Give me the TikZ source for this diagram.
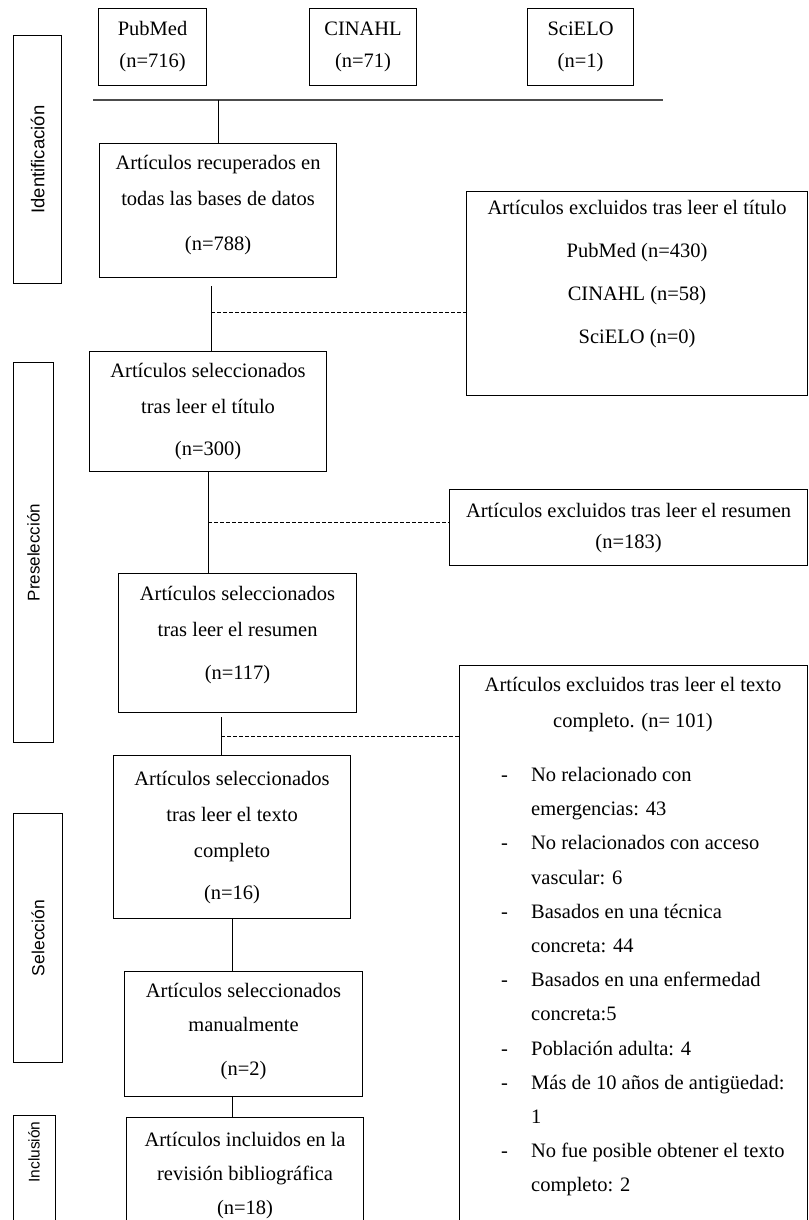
\documentclass[tikz,border=0pt]{standalone}
\usepackage{fontspec}
\setmainfont{Liberation Serif}
\newfontfamily\labfont{Liberation Sans}
\begin{document}
\begin{tikzpicture}[x=1pt,y=-1pt,
  box/.style={draw, line width=1.1pt, anchor=north west, inner sep=0pt, align=center, font=\fontsize{20.5}{36}\selectfont},
  lab/.style={draw, line width=1.1pt, anchor=north west, inner sep=0pt},
  txt/.style={inner sep=0pt, align=center, font=\fontsize{20.5}{36}\selectfont},
  link/.style={line width=1pt},
  dlink/.style={line width=0.9pt, dash pattern=on 4pt off 2pt}]
\path[use as bounding box] (0,0) rectangle (808,1220);
\clip (0,0) rectangle (808,1220);

% side labels
\node[lab, minimum width=48pt, minimum height=248pt] (lId) at (13,35) {\rotatebox{90}{\labfont\fontsize{18.5}{22}\selectfont Identificación}};
\node[lab, minimum width=40pt, minimum height=380pt] (lPre) at (13,362) {\rotatebox{90}{\labfont\fontsize{17}{20}\selectfont Preselección}};
\node[lab, minimum width=49pt, minimum height=249pt] (lSel) at (13,813) {\rotatebox{90}{\labfont\fontsize{17.5}{21}\selectfont Selección}};
\node[lab, minimum width=42pt, minimum height=130pt] (lInc) at (13,1115) {};
\node[inner sep=0pt] (lIncT) at (34,1152) {\rotatebox{90}{\labfont\fontsize{15.5}{18}\selectfont Inclusión}};

% top sources
\node[box, minimum width=108pt, minimum height=77pt, font=\fontsize{20.5}{32}\selectfont] (pub) at (98,8) {PubMed\\(n=716)};
\node[box, minimum width=107pt, minimum height=77pt, font=\fontsize{20.5}{32}\selectfont] (cin) at (309,8) {CINAHL\\(n=71)};
\node[box, minimum width=106pt, minimum height=77pt, font=\fontsize{20.5}{32}\selectfont] (sci) at (527,8) {SciELO\\(n=1)};
\coordinate (barL) at (93,100);
\coordinate (barR) at (663,100);
\draw[line width=1.6pt, black!70] (barL) -- (barR);

% main column
\node[box, minimum width=237pt, minimum height=134pt] (rec) at (99,143) {Artículos recuperados en\\todas las bases de datos\\[9pt](n=788)\\[-21pt]\mbox{}};
\node[box, minimum width=237pt, minimum height=120pt] (tit) at (89,351) {Artículos seleccionados\\tras leer el título\\[6pt](n=300)};
\node[box, minimum width=238pt, minimum height=139pt] (res) at (118,573) {Artículos seleccionados\\tras leer el resumen\\[7pt](n=117)\\[-15pt]\mbox{}};
\node[box, minimum width=237pt, minimum height=163pt] (tex) at (113,755) {Artículos seleccionados\\tras leer el texto\\completo\\[6pt](n=16)};
\node[box, minimum width=238pt, minimum height=125pt, font=\fontsize{20.5}{34}\selectfont] (man) at (124,971) {Artículos seleccionados\\manualmente\\[10pt](n=2)\\[-24pt]\mbox{}};
\node[box, minimum width=237pt, minimum height=115pt, font=\fontsize{20.5}{34}\selectfont] (inc) at (126,1117) {Artículos incluidos en la\\revisión bibliográfica\\(n=18)};

% exclusion boxes
\node[box, minimum width=341pt, minimum height=204pt, font=\fontsize{20.5}{43}\selectfont] (exTit) at (466,191) {Artículos excluidos tras leer el título\\PubMed (n=430)\\CINAHL (n=58)\\SciELO (n=0)\\~};
\node[box, minimum width=358pt, minimum height=76pt, font=\fontsize{20.5}{31}\selectfont] (exRes) at (449,489) {Artículos excluidos tras leer el resumen\\(n=183)};
\node[box, minimum width=348pt, minimum height=600pt] (exTex) at (459,665) {};
\node[txt] (exTexH) at (633,705) {Artículos excluidos tras leer el texto\\completo. (n= 101)};
\node[anchor=north west, inner sep=0pt, align=left, font=\fontsize{20.5}{34.2}\selectfont] (bul) at (501,767) {%
\makebox[30pt][l]{-}No relacionado con\\
\makebox[30pt]{}emergencias: 43\\
\makebox[30pt][l]{-}No relacionados con acceso\\
\makebox[30pt]{}vascular: 6\\
\makebox[30pt][l]{-}Basados en una técnica\\
\makebox[30pt]{}concreta: 44\\
\makebox[30pt][l]{-}Basados en una enfermedad\\
\makebox[30pt]{}concreta:5\\
\makebox[30pt][l]{-}Población adulta: 4\\
\makebox[30pt][l]{-}Más de 10 años de antigüedad:\\
\makebox[30pt]{}1\\
\makebox[30pt][l]{-}No fue posible obtener el texto\\
\makebox[30pt]{}completo: 2};

% connectors
\draw[link] (rec.north |- barL) -- (rec.north);
\coordinate (c1) at (211,286);
\draw[link] (c1) -- (c1 |- tit.north);
\coordinate (d1) at (211,312);
\draw[dlink] (d1) -- (d1 -| exTit.west);
\draw[link] (tit.south) -- (tit.south |- res.north);
\coordinate (d2) at (208,522);
\draw[dlink] (d2) -- (d2 -| exRes.west);
\coordinate (c3) at (221,717);
\draw[link] (c3) -- (c3 |- tex.north);
\coordinate (d3) at (221,736);
\draw[dlink] (d3) -- (d3 -| exTex.west);
\draw[link] (tex.south) -- (tex.south |- man.north);
\draw[link] (tex.south |- man.south) -- (tex.south |- inc.north);
\end{tikzpicture}
\end{document}
